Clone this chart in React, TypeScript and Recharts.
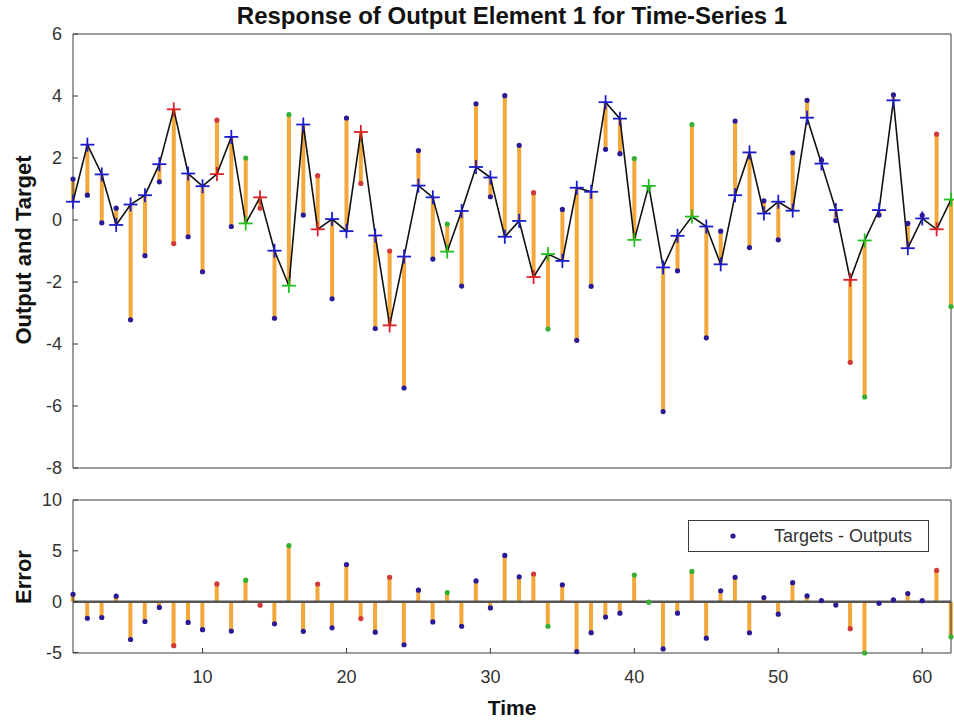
import React from "react";
import { ComposedChart, Line, Scatter, Bar, XAxis, YAxis, ReferenceLine, Legend } from "recharts";

// time steps of the series
const timeSteps = [
  1, 2, 3, 4, 5, 6, 7, 8, 9, 10, 11, 12, 13, 14, 15, 16, 17, 18, 19, 20, 21,
  22, 23, 24, 25, 26, 27, 28, 29, 30, 31, 32, 33, 34, 35, 36, 37, 38, 39, 40, 41,
  42, 43, 44, 45, 46, 47, 48, 49, 50, 51, 52, 53, 54, 55, 56, 57, 58, 59, 60, 61, 62,
];

// network outputs (+ markers, joined by the black response line)
const outputs = [
  0.59, 2.43, 1.47, -0.16, 0.5, 0.8, 1.8, 3.57, 1.5, 1.09,
  1.48, 2.68, -0.11, 0.73, -0.99, -2.12, 3.08, -0.3, 0.03, -0.36,
  2.84, -0.5, -3.4, -1.18, 1.11, 0.73, -1.02, 0.29, 1.71, 1.37,
  -0.54, -0.03, -1.84, -1.1, -1.32, 1.04, 0.91, 3.8, 3.27, -0.64,
  1.1, -1.53, -0.51, 0.11, -0.21, -1.43, 0.8, 2.18, 0.21, 0.59,
  0.3, 3.3, 1.82, 0.32, -1.93, -0.66, 0.32, 3.86, -0.91, 0.05,
  -0.3, 0.66,
];

// targets (dots)
const targets = [
  1.32, 0.8, -0.09, 0.38, -3.22, -1.15, 1.23, -0.76, -0.54, -1.67,
  3.22, -0.21, 2.0, 0.38, -3.17, 3.4, 0.16, 1.43, -2.54, 3.29,
  1.18, -3.5, -1.0, -5.42, 2.24, -1.26, -0.13, -2.13, 3.75, 0.75,
  4.01, 2.41, 0.88, -3.52, 0.34, -3.88, -2.14, 2.28, 2.14, 1.98,
  1.05, -6.18, -1.64, 3.08, -3.8, -0.36, 3.19, -0.89, 0.62, -0.64,
  2.17, 3.86, 1.93, -0.02, -4.59, -5.71, 0.16, 4.04, -0.11, 0.15,
  2.77, -2.79,
];

// tr = training, va = validation, te = test
const sets = [
  "tr", "tr", "tr", "tr", "tr", "tr", "tr", "te", "tr", "tr",
  "te", "tr", "va", "te", "tr", "va", "tr", "te", "tr", "tr",
  "te", "tr", "te", "tr", "tr", "tr", "va", "tr", "tr", "tr",
  "tr", "tr", "te", "va", "tr", "tr", "tr", "tr", "tr", "va",
  "va", "tr", "tr", "va", "tr", "tr", "tr", "tr", "tr", "tr",
  "tr", "tr", "tr", "tr", "te", "va", "tr", "tr", "tr", "tr",
  "te", "va",
];

const xTicks = [10, 20, 30, 40, 50, 60];
const yTicksTop = [-8, -6, -4, -2, 0, 2, 4, 6];
const yTicksErr = [-5, 0, 5, 10];

const FONT = '"Liberation Sans", Arial, Helvetica, sans-serif';
const FRAME = "#3a3a3a";
const TXT = "#333";
const ORANGE = "#f2a83a";
const plusColor: Record<string, string> = { tr: "#1c1ccf", va: "#22c022", te: "#dd1f2a" };
const dotColor: Record<string, string> = { tr: "#2a1a95", va: "#35b035", te: "#d23a3a" };

const rows = timeSteps.map((t, i) => ({
  t,
  output: outputs[i],
  target: targets[i],
  err: +(targets[i] - outputs[i]).toFixed(2),
  set: sets[i],
}));

const PlusMark = (p: any) => {
  const { cx, cy, payload } = p;
  if (cx == null || cy == null) return null;
  const c = plusColor[payload.set];
  return (
    <g>
      <line x1={cx - 7} y1={cy} x2={cx + 7} y2={cy} stroke={c} strokeWidth={1.8} />
      <line x1={cx} y1={cy - 7} x2={cx} y2={cy + 7} stroke={c} strokeWidth={1.8} />
    </g>
  );
};

const DotMark = (p: any) => {
  const { cx, cy, payload } = p;
  if (cx == null || cy == null) return null;
  return <circle cx={cx} cy={cy} r={2.6} fill={dotColor[payload.set]} />;
};

const tickFont = { fontSize: 18, fill: TXT, fontFamily: FONT };
const axisLine = { stroke: FRAME, strokeWidth: 1 };

const ErrLegend = () => (
  <div style={{ width: 239, height: 30, border: `1px solid ${FRAME}`, background: "#fff", position: "relative", fontFamily: FONT, fontSize: 18, color: TXT }}>
    <svg width={20} height={20} style={{ position: "absolute", left: 34, top: 5 }}>
      <circle cx={10} cy={10} r={2.6} fill={dotColor.tr} />
    </svg>
    <span style={{ position: "absolute", left: 85, top: 5, whiteSpace: "nowrap" }}>Targets - Outputs</span>
  </div>
);

export default function App() {
  return (
    <div style={{ position: "fixed", left: 0, top: 0, width: 954, height: 727, background: "#fff", fontFamily: FONT }}>
      <div style={{ position: "absolute", left: 73, width: 878, top: 2, textAlign: "center", fontSize: 24, fontWeight: "bold", color: "#111", whiteSpace: "nowrap" }}>
        Response of Output Element 1 for Time-Series 1
      </div>
      <div style={{ position: "absolute", left: 24, top: 250, transform: "translate(-50%, -50%) rotate(-90deg)", fontSize: 22, fontWeight: "bold", color: "#111", whiteSpace: "nowrap" }}>
        Output and Target
      </div>
      <div style={{ position: "absolute", left: 24, top: 577, transform: "translate(-50%, -50%) rotate(-90deg)", fontSize: 22, fontWeight: "bold", color: "#111", whiteSpace: "nowrap" }}>
        Error
      </div>
      <div style={{ position: "absolute", left: 512, top: 708, transform: "translate(-50%, -50%)", fontSize: 21, fontWeight: "bold", color: "#111", whiteSpace: "nowrap" }}>
        Time
      </div>

      <div style={{ position: "absolute", left: 0, top: 0 }}>
        <ComposedChart width={954} height={480} data={rows} margin={{ top: 34, right: 3, bottom: 0, left: 0 }}>
          <XAxis dataKey="t" type="number" domain={[1, 62]} ticks={xTicks} tick={false} tickSize={-5} height={12} axisLine={axisLine} tickLine={axisLine} />
          <YAxis type="number" domain={[-8, 6]} ticks={yTicksTop} width={73} tickSize={-5} tickMargin={16} tick={tickFont} axisLine={axisLine} tickLine={axisLine} />
          <ReferenceLine y={6} stroke={FRAME} strokeWidth={1} />
          <ReferenceLine x={62} stroke={FRAME} strokeWidth={1} />
          {rows.map((r) => (
            <ReferenceLine key={`e${r.t}`} segment={[{ x: r.t, y: r.target }, { x: r.t, y: r.output }]} stroke={ORANGE} strokeWidth={4} />
          ))}
          <Line dataKey="output" stroke="#111" strokeWidth={1.6} isAnimationActive={false} dot={(p: any) => <PlusMark key={`p${p.index}`} {...p} />} activeDot={false} />
          <Scatter dataKey="target" isAnimationActive={false} shape={(p: any) => <DotMark {...p} />} />
        </ComposedChart>
      </div>

      <div style={{ position: "absolute", left: 0, top: 480 }}>
        <ComposedChart width={954} height={247} data={rows} margin={{ top: 20, right: 3, bottom: 0, left: 0 }}>
          <XAxis dataKey="t" type="number" domain={[1, 62]} ticks={xTicks} tickSize={-5} tickMargin={22} height={74} tick={tickFont} axisLine={axisLine} tickLine={axisLine} />
          <YAxis type="number" domain={[-5, 10]} ticks={yTicksErr} width={73} tickSize={-5} tickMargin={16} tick={tickFont} axisLine={axisLine} tickLine={axisLine} />
          <ReferenceLine y={10} stroke={FRAME} strokeWidth={1} />
          <ReferenceLine x={62} stroke={FRAME} strokeWidth={1} />
          <Bar dataKey="err" barSize={4} fill={ORANGE} isAnimationActive={false} />
          <ReferenceLine y={0} stroke="#555" strokeWidth={2.5} />
          <Scatter dataKey="err" isAnimationActive={false} shape={(p: any) => <DotMark {...p} />} />
          <Legend align="center" verticalAlign="middle" wrapperStyle={{ left: 688, top: 40, width: 241, height: 32 }} content={() => <ErrLegend />} />
        </ComposedChart>
      </div>
    </div>
  );
}
